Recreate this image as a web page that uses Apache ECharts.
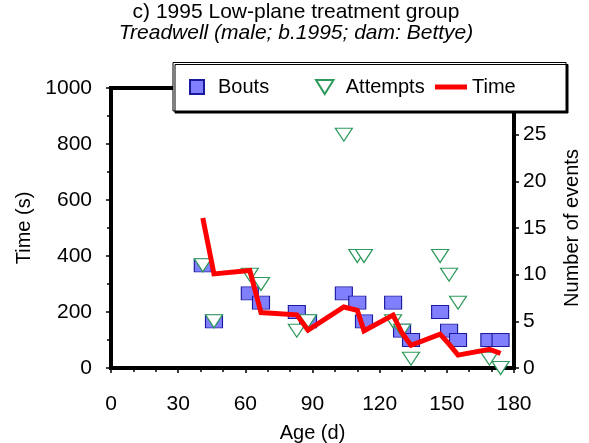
<!DOCTYPE html>
<html>
<head>
<meta charset="utf-8">
<script src="https://cdn.jsdelivr.net/npm/echarts@6/dist/echarts.min.js"></script>
<style>
html,body{margin:0;padding:0;background:#fff;}
#chart{width:589px;height:443px;}
</style>
</head>
<body>
<div id="chart"></div>
<script>
// Data
const ages     = [41, 46, 62, 67, 83, 88, 104, 110, 113, 126, 130, 134, 147, 151, 155, 169, 174];
const bouts    = [11, 5, 8, 7, 6, 5, 8, 7, 5, 7, 4, 3, 6, 4, 3, 3, 3];
const attempts = [11, 5, 10, 9, 4, 5, 25, 12, 12, 5, 4, 1, 12, 10, 7, 1, 0];
const times    = [536, 336, 348, 198, 190, 135, 218, 206, 133, 189, 125, 81, 121, 85, 46, 67, 52];
const xTicks = [0, 30, 60, 90, 120, 150, 180];
const seriesNames = ['Bouts', 'Attempts', 'Time'];
const titleText = 'c) 1995 Low-plane treatment group';
const subtitleText = 'Treadwell (male; b.1995; dam: Bettye)';

const FONT = 'Liberation Sans, Arial, sans-serif';
const pair = (xs, ys) => xs.map((x, i) => [x, ys[i]]);
const squareSym = 'path://M0,0L10,0L10,10L0,10Z';
const downTri = 'path://M0,0L10,0L5,8Z';
const lineIcon = 'path://M0,0L32,0L32,5L0,5Z';

function legendAt(name, left, extra) {
  return Object.assign({
    data: [name],
    left: left, top: 76,
    padding: 0,
    itemWidth: 32, itemHeight: 14,
    z: 6,
    selectedMode: false,
    textStyle: {fontFamily: FONT, fontSize: 20, color: '#000', lineHeight: 22}
  }, extra || {});
}

const chart = echarts.init(document.getElementById('chart'), null, {renderer: 'canvas'});
chart.setOption({
  animation: false,
  backgroundColor: '#fff',
  textStyle: {fontFamily: FONT, color: '#000'},
  title: {
    text: titleText,
    subtext: subtitleText,
    left: 296, top: 0, textAlign: 'center',
    padding: [2, 0, 0, 0], itemGap: 0,
    textStyle: {fontFamily: FONT, fontSize: 21, fontWeight: 'normal', color: '#000'},
    subtextStyle: {fontFamily: FONT, fontSize: 21, fontStyle: 'italic', color: '#000'}
  },
  graphic: [{
    type: 'rect', z: 5,
    shape: {x: 173, y: 62.5, width: 393, height: 48.5},
    style: {fill: '#fff', stroke: '#000', lineWidth: 1,
      shadowColor: '#000', shadowBlur: 0, shadowOffsetX: 2, shadowOffsetY: 2}
  }],
  legend: [
    legendAt(seriesNames[0], 189),
    legendAt(seriesNames[1], 315),
    legendAt(seriesNames[2], 435, {data: [{name: seriesNames[2], icon: lineIcon}]})
  ],
  grid: {
    left: 111, right: 75, top: 88, bottom: 75,
    outerBoundsMode: 'none', containLabel: false,
    show: true, borderColor: '#000', borderWidth: 4, backgroundColor: '#fff'
  },
  xAxis: {
    type: 'value', min: 0, max: 180, interval: 30,
    name: 'Age (d)', nameLocation: 'middle', nameGap: 55,
    nameTextStyle: {fontFamily: FONT, fontSize: 20, color: '#000'},
    axisLine: {show: true, lineStyle: {color: '#000', width: 4}},
    axisTick: {show: true, inside: false, length: 5, lineStyle: {color: '#000', width: 1.5}},
    minorTick: {show: true, splitNumber: 3, length: 4, lineStyle: {color: '#000', width: 1.5}},
    axisLabel: {fontFamily: FONT, fontSize: 21, color: '#000', margin: 26,
      formatter: v => xTicks.indexOf(v) >= 0 ? String(v) : ''},
    splitLine: {show: false}
  },
  yAxis: [
    {
      type: 'value', min: 0, max: 1000, interval: 200, position: 'left',
      name: 'Time (s)', nameLocation: 'middle', nameGap: 72, nameRotate: 90,
      nameTextStyle: {fontFamily: FONT, fontSize: 20, color: '#000'},
      axisLine: {show: true, lineStyle: {color: '#000', width: 4}},
      axisTick: {show: true, inside: false, length: 5, lineStyle: {color: '#000', width: 1.5}},
      minorTick: {show: true, splitNumber: 2, length: 4, lineStyle: {color: '#000', width: 1.5}},
      axisLabel: {fontFamily: FONT, fontSize: 21, color: '#000', margin: 19,
        formatter: v => String(v)},
      splitLine: {show: false}
    },
    {
      type: 'value', min: 0, max: 30, interval: 5, position: 'right',
      name: 'Number of events', nameLocation: 'middle', nameGap: 48, nameRotate: 90,
      nameTextStyle: {fontFamily: FONT, fontSize: 20, color: '#000'},
      axisLine: {show: true, lineStyle: {color: '#000', width: 4}},
      axisTick: {show: true, inside: false, length: 5, lineStyle: {color: '#000', width: 1.5}},
      axisLabel: {fontFamily: FONT, fontSize: 21, color: '#000', margin: 9,
        formatter: v => v >= 30 ? '' : String(v)},
      splitLine: {show: false}
    }
  ],
  series: [
    {
      name: seriesNames[0], type: 'scatter', yAxisIndex: 1,
      symbol: squareSym, symbolSize: [17, 13],
      itemStyle: {color: '#8080FF', borderColor: '#1A1A9E', borderWidth: 1, opacity: 1},
      data: pair(ages, bouts)
    },
    {
      name: seriesNames[1], type: 'scatter', yAxisIndex: 1,
      symbol: downTri, symbolSize: [17, 13],
      itemStyle: {color: '#fff', borderColor: '#2E9A5C', borderWidth: 1.2, opacity: 1},
      data: pair(ages, attempts)
    },
    {
      name: seriesNames[2], type: 'line', yAxisIndex: 0,
      symbol: 'none', showSymbol: false,
      lineStyle: {color: '#FF0000', width: 5, join: 'miter'},
      itemStyle: {color: '#FF0000', borderWidth: 0},
      data: pair(ages, times)
    }
  ]
});
</script>
</body>
</html>
